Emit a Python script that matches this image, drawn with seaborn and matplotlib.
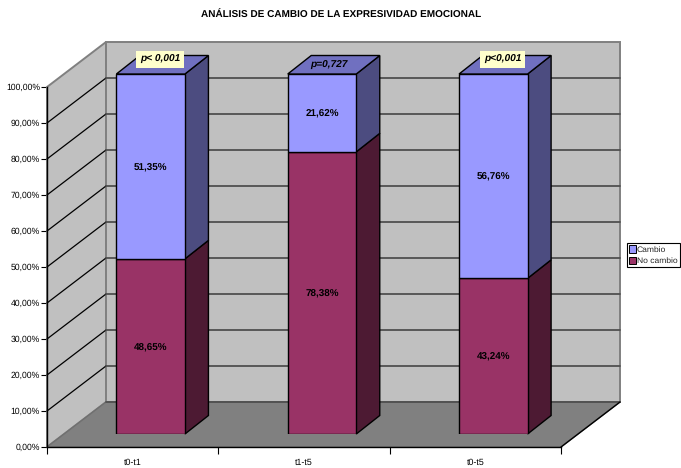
import matplotlib
matplotlib.use("Agg")
import matplotlib.pyplot as plt
from matplotlib.patches import Patch, Polygon
import pandas as pd
import seaborn as sns

periodos = ["t0-t1", "t1-t5", "t0-t5"]
no_cambio = [48.65, 78.38, 43.24]
cambio = [51.35, 21.62, 56.76]
p_valores = ["p< 0,001", "p=0,727", "p<0,001"]
y_ticks = [0, 10, 20, 30, 40, 50, 60, 70, 80, 90, 100]
y_labels = ["0,00%", "10,00%", "20,00%", "30,00%", "40,00%", "50,00%",
            "60,00%", "70,00%", "80,00%", "90,00%", "100,00%"]

df = pd.DataFrame({"periodo": periodos, "no_cambio": no_cambio, "cambio": cambio})

sns.set_theme(style="white")
plt.rcParams["font.family"] = ["Liberation Sans", "DejaVu Sans"]
plt.rcParams["text.hinting"] = "none"

W, H = 681, 468
fig = plt.figure(figsize=(W / 100, H / 100), dpi=100)

# plano frontal del grafico, en pixeles de la imagen
x0, x1, y_base, y_top = 47, 561, 447, 87
ax = fig.add_axes([x0 / W, 1 - y_base / H, (x1 - x0) / W, (y_base - y_top) / H])
ax.set_xlim(-0.5, 2.5)
ax.set_ylim(0, 100)

px_x = 3 / (x1 - x0)
px_y = 100 / (y_base - y_top)

# paredes y suelo
wall_dx, wall_dy = 59 * px_x, 45 * px_y
l, r = -0.5, 2.5
ax.add_patch(Polygon([(l, 0), (l + wall_dx, wall_dy), (l + wall_dx, 100 + wall_dy), (l, 100)],
                     fc="#C0C0C0", ec="#808080", lw=1.4, clip_on=False, zorder=1))
ax.add_patch(Polygon([(l + wall_dx, wall_dy), (r + wall_dx, wall_dy), (r + wall_dx, 100 + wall_dy),
                      (l + wall_dx, 100 + wall_dy)],
                     fc="#C0C0C0", ec="#808080", lw=1.4, clip_on=False, zorder=1))
ax.add_patch(Polygon([(l, 0), (r, 0), (r + wall_dx, wall_dy), (l + wall_dx, wall_dy)],
                     fc="#808080", ec="#707070", lw=1, clip_on=False, zorder=2))

for t in y_ticks[:-1]:
    if t > 0:
        ax.plot([l, l + wall_dx], [t, t + wall_dy], color="black", lw=0.9, clip_on=False, zorder=3)
    ax.plot([l + wall_dx, r + wall_dx], [t + wall_dy, t + wall_dy], color="#505050", lw=1.3,
            clip_on=False, zorder=3)
ax.plot([r, r + wall_dx], [0, wall_dy], color="black", lw=1, clip_on=False, zorder=3)

sns.despine(ax=ax, top=True, right=True)
for s in ["left", "bottom"]:
    ax.spines[s].set_color("black")
    ax.spines[s].set_linewidth(1)
    ax.spines[s].set_zorder(4)

ax.set_yticks(y_ticks)
ax.set_yticklabels(y_labels, fontsize=6.2, color="black")
ax.set_xticks([-0.5, 0.5, 1.5, 2.5])
ax.set_xticklabels([])
ax.set_xticks([0, 1, 2], minor=True)
ax.set_xticklabels(periodos, minor=True, fontsize=6.4, color="black")
ax.tick_params(axis="y", which="major", length=4, width=0.8, color="black", pad=1, left=True)
ax.tick_params(axis="x", which="major", length=5, width=0.8, color="black", bottom=True)
ax.tick_params(axis="x", which="minor", length=0, pad=8, bottom=False)

# barras: mismo plano desplazado hacia el fondo
shift_x, shift_y = 18, 13
ax_b = fig.add_axes([(x0 + shift_x) / W, 1 - (y_base - shift_y) / H, (x1 - x0) / W, (y_base - y_top) / H],
                    facecolor="none")
sns.barplot(data=df, x="periodo", y="no_cambio", color="#993366", saturation=1, width=0.4,
            edgecolor="black", linewidth=1, ax=ax_b, zorder=5)
sns.barplot(data=df, x="periodo", y="cambio", bottom=df["no_cambio"], color="#9999FF", saturation=1,
            width=0.4, edgecolor="black", linewidth=1, ax=ax_b, zorder=5)
ax_b.set_xlim(-0.5, 2.5)
ax_b.set_ylim(0, 100)
ax_b.axis("off")

dx, dy = 23.5 * px_x, 18.5 * px_y
n = len(periodos)
lados = ["#4D1A33"] * n + ["#4C4C80"] * n
for i, bar in enumerate(ax_b.patches):
    bx, by, bw, bh = bar.get_x(), bar.get_y(), bar.get_width(), bar.get_height()
    xr, yt = bx + bw, by + bh
    ax_b.add_patch(Polygon([(xr, by), (xr + dx, by + dy), (xr + dx, yt + dy), (xr, yt)],
                           fc=lados[i], ec="black", lw=1, clip_on=False, zorder=4))
    if i >= n:
        ax_b.add_patch(Polygon([(bx, yt), (xr, yt), (xr + dx, yt + dy), (bx + dx, yt + dy)],
                               fc="#7070C0", ec="black", lw=1, clip_on=False, zorder=4))
    etiqueta = f"{bh:.2f}%".replace(".", ",")
    ax_b.annotate(etiqueta, xy=(bx + bw / 2, by + bh / 2), xytext=(0, -1), textcoords="offset pixels",
                  ha="center", va="center", fontsize=7.1, fontweight="bold", color="black", zorder=6)

# valores p sobre cada barra
p_dx = [9.5, 7, 9.5]
p_dy = [14.5, 9, 14.5]
p_fondo = ["#FFFFCC", None, "#FFFFCC"]
for i, txt in enumerate(p_valores):
    box = dict(fc=p_fondo[i], ec="none", pad=2.6) if p_fondo[i] else None
    ax_b.annotate(txt, xy=(i, 100), xytext=(p_dx[i], p_dy[i]), textcoords="offset pixels",
                  ha="center", va="center", fontsize=7.3, fontweight="bold", fontstyle="italic",
                  color="black", bbox=box, zorder=7, annotation_clip=False)

fig.text(341 / W, 1 - 14 / H, "ANÁLISIS DE CAMBIO DE LA EXPRESIVIDAD EMOCIONAL", ha="center", va="center",
         fontsize=7.2, fontweight="bold", color="black")

handles = [Patch(fc="#9999FF", ec="black", lw=0.7, label="Cambio"),
           Patch(fc="#993366", ec="black", lw=0.7, label="No cambio")]
fig.legend(handles=handles, loc="center left", bbox_to_anchor=(627 / W, 1 - 255 / H), fontsize=6.1,
           frameon=True, fancybox=False, framealpha=1, edgecolor="black", facecolor="white",
           borderpad=0.25, labelspacing=0.4, handlelength=0.8, handleheight=1, handletextpad=0.1,
           borderaxespad=0).get_frame().set_linewidth(0.8)

fig.savefig("out.png", dpi=100, facecolor="white")
